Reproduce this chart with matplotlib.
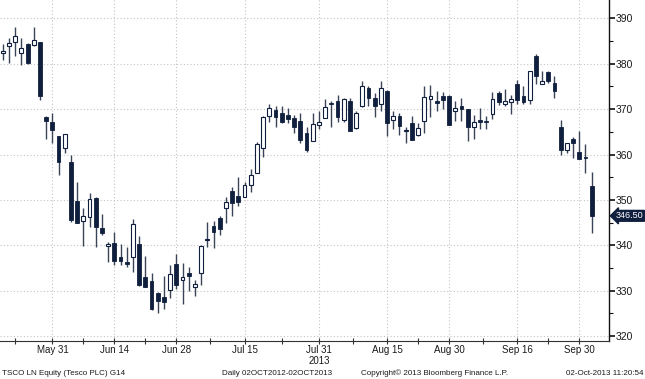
import matplotlib
matplotlib.use("Agg")
import matplotlib.pyplot as plt
import matplotlib.transforms as mtransforms
import numpy as np

plt.rcParams['font.family'] = ['Liberation Sans', 'DejaVu Sans']

# trading days shown (UK calendar, 20 May 2013 - 02 Oct 2013)
days = np.arange(np.datetime64('2013-05-20'), np.datetime64('2013-10-03'))
days = days[np.is_busday(days, holidays=['2013-05-27', '2013-08-26'])]

opens = [382.4, 383.9, 384.9, 382.3, 384.4, 384.1, 384.7, 368.2, 367.2, 364.1,
         361.4, 358.3, 349.8, 345.4, 346.3, 350.4, 343.8, 339.9, 340.5, 337.4,
         336.4, 337.5, 340.3, 333.1, 332.1, 329.6, 328.7, 330.2, 335.9, 332.4,
         333.9, 330.8, 333.9, 341.2, 344.3, 346.0, 348.2, 352.0, 350.9, 350.6,
         353.2, 356.0, 361.4, 368.5, 369.8, 369.1, 368.7, 368.0, 367.4, 364.7,
         363.0, 366.5, 368.0, 371.4, 371.8, 367.6, 371.7, 365.8, 370.6, 374.6,
         372.4, 371.2, 374.0, 367.6, 368.5, 365.1, 367.0, 364.3, 367.3, 372.2,
         371.7, 372.8, 372.9, 369.5, 370.8, 370.0, 366.1, 367.6, 367.5, 368.9,
         373.5, 371.2, 371.5, 375.6, 372.8, 372.0, 381.7, 375.6, 378.2, 375.7,
         366.0, 360.9, 363.4, 360.5, 359.3, 353.1]
highs = [384.4, 385.7, 388.0, 385.7, 384.6, 388.2, 384.7, 368.5, 369.2, 364.1,
         364.5, 359.9, 354.0, 348.2, 351.5, 350.7, 346.9, 340.8, 343.0, 340.3,
         339.7, 345.8, 342.1, 337.7, 333.9, 329.8, 333.3, 335.7, 338.1, 336.1,
         335.3, 332.4, 340.1, 345.2, 345.4, 346.5, 350.7, 352.9, 355.1, 354.0,
         356.8, 362.8, 368.5, 371.1, 370.7, 370.7, 370.3, 368.7, 369.2, 366.0,
         369.2, 369.7, 372.2, 371.9, 373.1, 372.4, 372.4, 369.5, 376.1, 375.0,
         373.5, 376.1, 374.2, 369.5, 369.2, 366.0, 368.4, 367.0, 375.0, 375.3,
         373.9, 373.7, 373.1, 371.7, 372.4, 370.0, 368.7, 370.2, 368.4, 373.7,
         373.9, 374.4, 373.1, 376.4, 375.0, 378.5, 382.2, 378.3, 378.3, 377.3,
         367.6, 362.6, 363.8, 365.2, 362.3, 356.1]
lows = [380.8, 380.2, 381.7, 379.7, 379.9, 384.0, 372.0, 363.4, 362.6, 355.4,
        360.3, 345.2, 344.9, 339.9, 344.1, 339.7, 342.3, 336.4, 335.7, 335.7,
        335.2, 334.2, 331.1, 330.8, 325.8, 325.1, 325.9, 328.4, 330.3, 327.1,
        330.0, 328.9, 331.3, 339.7, 339.4, 342.3, 345.0, 346.5, 348.7, 350.6,
        351.8, 356.0, 359.5, 367.2, 366.1, 366.9, 366.9, 364.7, 362.6, 360.6,
        362.9, 365.6, 368.0, 366.0, 367.2, 367.2, 365.1, 365.6, 370.4, 370.6,
        368.3, 369.7, 364.0, 365.6, 364.3, 362.5, 363.1, 364.0, 364.8, 368.2,
        369.5, 370.0, 366.5, 367.5, 367.5, 362.9, 363.4, 365.6, 365.6, 367.8,
        370.9, 370.7, 368.9, 371.1, 371.1, 371.1, 375.6, 375.6, 375.8, 372.4,
        359.9, 360.4, 359.2, 359.0, 356.0, 342.7]
closes = [382.8, 384.6, 386.1, 383.4, 380.1, 385.2, 373.0, 367.4, 365.4, 358.4,
          364.5, 345.6, 345.0, 346.5, 350.2, 344.0, 342.7, 340.0, 336.6, 336.6,
          335.9, 344.7, 331.3, 330.8, 325.9, 327.8, 327.5, 333.7, 331.3, 333.1,
          333.3, 331.4, 339.9, 341.4, 343.0, 343.5, 349.6, 349.4, 349.6, 353.3,
          355.6, 362.3, 368.3, 370.2, 368.3, 367.1, 367.8, 366.0, 363.1, 361.0,
          366.7, 367.2, 370.4, 371.1, 368.2, 372.2, 365.1, 369.2, 375.1, 372.4,
          370.7, 374.6, 367.0, 368.4, 366.4, 365.3, 363.2, 365.9, 372.6, 372.9,
          371.3, 372.0, 366.5, 370.2, 370.0, 366.0, 367.2, 367.1, 367.2, 372.2,
          371.5, 371.8, 372.2, 372.0, 371.5, 378.3, 377.3, 376.3, 376.1, 374.1,
          361.0, 362.5, 362.6, 359.0, 359.2, 346.5]

date_labels = ['May 31', 'Jun 14', 'Jun 28', 'Jul 15', 'Jul 31',
               'Aug 15', 'Aug 30', 'Sep 16', 'Sep 30']
date_ticks = ['2013-05-31', '2013-06-14', '2013-06-28', '2013-07-15', '2013-07-31',
              '2013-08-15', '2013-08-30', '2013-09-16', '2013-09-30']
y_ticks = [320, 330, 340, 350, 360, 370, 380, 390]
last_price = 346.50

navy = '#0f1f3d'
wick = '#3a4457'
txt = '#1a1a1a'

fig = plt.figure(figsize=(6.45, 3.79), dpi=100)
ax = fig.add_axes([0.0, 0.1, 609 / 645, 0.9])

x = np.arange(len(days))
o = np.array(opens)
c = np.array(closes)
ax.vlines(x, lows, highs, color=wick, lw=1.0, zorder=2)
bottoms = np.minimum(o, c)
heights = np.maximum(np.abs(c - o), 0.3)
up = c > o
ax.bar(x[~up], heights[~up], bottom=bottoms[~up], width=0.62,
       color=navy, edgecolor=navy, lw=0.6, zorder=3)
ax.bar(x[up], heights[up], bottom=bottoms[up], width=0.62,
       color='white', edgecolor=navy, lw=0.8, zorder=3)

ax.set_xlim(-0.45, 97.8)
ax.set_ylim(318.9, 394.05)

# x ticks at label dates, minor ticks half way between
pos = [int(np.where(days == np.datetime64(d))[0][0]) for d in date_ticks]
ax.set_xticks(pos)
ax.set_xticklabels(date_labels, fontsize=7, color=txt)
mids = [pos[0] - 6] + [(a + b) / 2 for a, b in zip(pos[:-1], pos[1:])]
ax.set_xticks(mids, minor=True)
ax.tick_params(axis='x', which='both', direction='inout', length=4, width=0.8,
               color='#333333', pad=1)

ax.yaxis.tick_right()
ax.set_yticks(y_ticks)
ax.set_yticklabels([str(v) for v in y_ticks], fontsize=7.5, color=txt)
ax.set_yticks(np.arange(325, 395, 10), minor=True)
ax.tick_params(axis='y', which='major', direction='out', length=4, width=1.2,
               color='#111111', pad=1)
ax.tick_params(axis='y', which='minor', direction='out', length=3, width=0.8,
               color='#111111')

ax.grid(True, which='major', color='#c4c4c4', linestyle=(0, (1, 2)), lw=0.8)
ax.set_axisbelow(True)
for s in ['top', 'left']:
    ax.spines[s].set_visible(False)
ax.spines['right'].set_color('#111111')
ax.spines['right'].set_linewidth(1.0)
ax.spines['bottom'].set_color('#333333')
ax.spines['bottom'].set_linewidth(0.8)

# last price marker
trans = mtransforms.blended_transform_factory(ax.transAxes, ax.transData)
ax.text(1.0115, last_price, '%.2f' % last_price, transform=trans, fontsize=6.5,
        color='white', va='center', ha='left',
        bbox=dict(boxstyle='larrow,pad=0.1', fc=navy, ec=navy))

# year under the axis and footer
ax.text(pos[4], -0.044, '2013', transform=mtransforms.blended_transform_factory(
    ax.transData, ax.transAxes), fontsize=7, ha='center', va='top', color=txt)
fy = 0.006
fs = 5.8
fig.text(2 / 645, fy, 'TSCO LN Equity (Tesco PLC) G14', fontsize=fs,
         ha='left', va='bottom', color=txt)
fig.text(222 / 645, fy, 'Daily 02OCT2012-02OCT2013', fontsize=fs,
         ha='left', va='bottom', color=txt)
fig.text(361 / 645, fy, 'Copyright\u00a9 2013 Bloomberg Finance L.P.', fontsize=fs,
         ha='left', va='bottom', color=txt)
fig.text(643 / 645, fy, '02-Oct-2013 11:20:54', fontsize=fs,
         ha='right', va='bottom', color=txt)

fig.savefig('out.png', dpi=100)
